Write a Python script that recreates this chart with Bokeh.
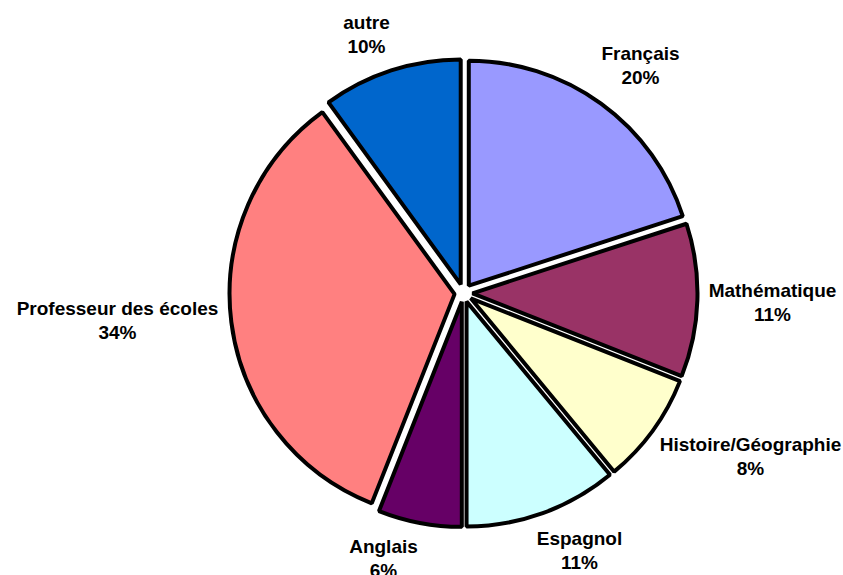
import math
from bokeh.plotting import figure
from bokeh.models import Range1d, ColumnDataSource
from bokeh.core.properties import value
from bokeh.embed import file_html
from bokeh.resources import INLINE

# Data
categories = ["Français", "Mathématique", "Histoire/Géographie", "Espagnol",
              "Anglais", "Professeur des écoles", "autre"]
percents = [20, 11, 8, 11, 6, 34, 10]
colors = ["#9999FF", "#993366", "#FFFFCC", "#CCFFFF", "#660066", "#FF8080", "#0066CC"]

# Layout (pixel-like coordinates; y measured upward from page bottom)
W, H = 843, 575
cx, cy = 463, H - 292.5
radius = 225
explode = 9
label_pos = [(640, 65), (772, 302), (750, 456), (579, 550),
             (383, 558), (117, 320), (366, 34)]

total = sum(percents)
xs, ys, starts, ends = [], [], [], []
cum = 0.0
for pct in percents:
    t1 = cum / total * 2 * math.pi
    cum += pct
    t2 = cum / total * 2 * math.pi
    tm = (t1 + t2) / 2
    xs.append(cx + explode * math.sin(tm))
    ys.append(cy + explode * math.cos(tm))
    starts.append(math.pi / 2 - t2)
    ends.append(math.pi / 2 - t1)

src = ColumnDataSource(dict(x=xs, y=ys, start=starts, end=ends, color=colors))

p = figure(width=W, height=H, output_backend="svg", toolbar_location=None,
           x_range=Range1d(0, W), y_range=Range1d(0, H),
           x_axis_type=None, y_axis_type=None, min_border=0)
p.grid.visible = False
p.outline_line_color = None
p.background_fill_color = "white"

p.wedge(x="x", y="y", radius=radius, start_angle="start", end_angle="end",
        fill_color="color", line_color="black", line_width=4, source=src)

labels = [f"{c}\n{v}%" for c, v in zip(categories, percents)]
lsrc = ColumnDataSource(dict(x=[lp[0] for lp in label_pos],
                             y=[H - lp[1] for lp in label_pos],
                             text=labels))
p.text(x="x", y="y", text="text", source=lsrc,
       text_font=value("Liberation Sans"), text_font_style="bold",
       text_font_size="19px", text_color="black",
       text_align="center", text_baseline="middle", text_line_height=1.12)

open("out.html", "w").write(file_html(p, INLINE))
